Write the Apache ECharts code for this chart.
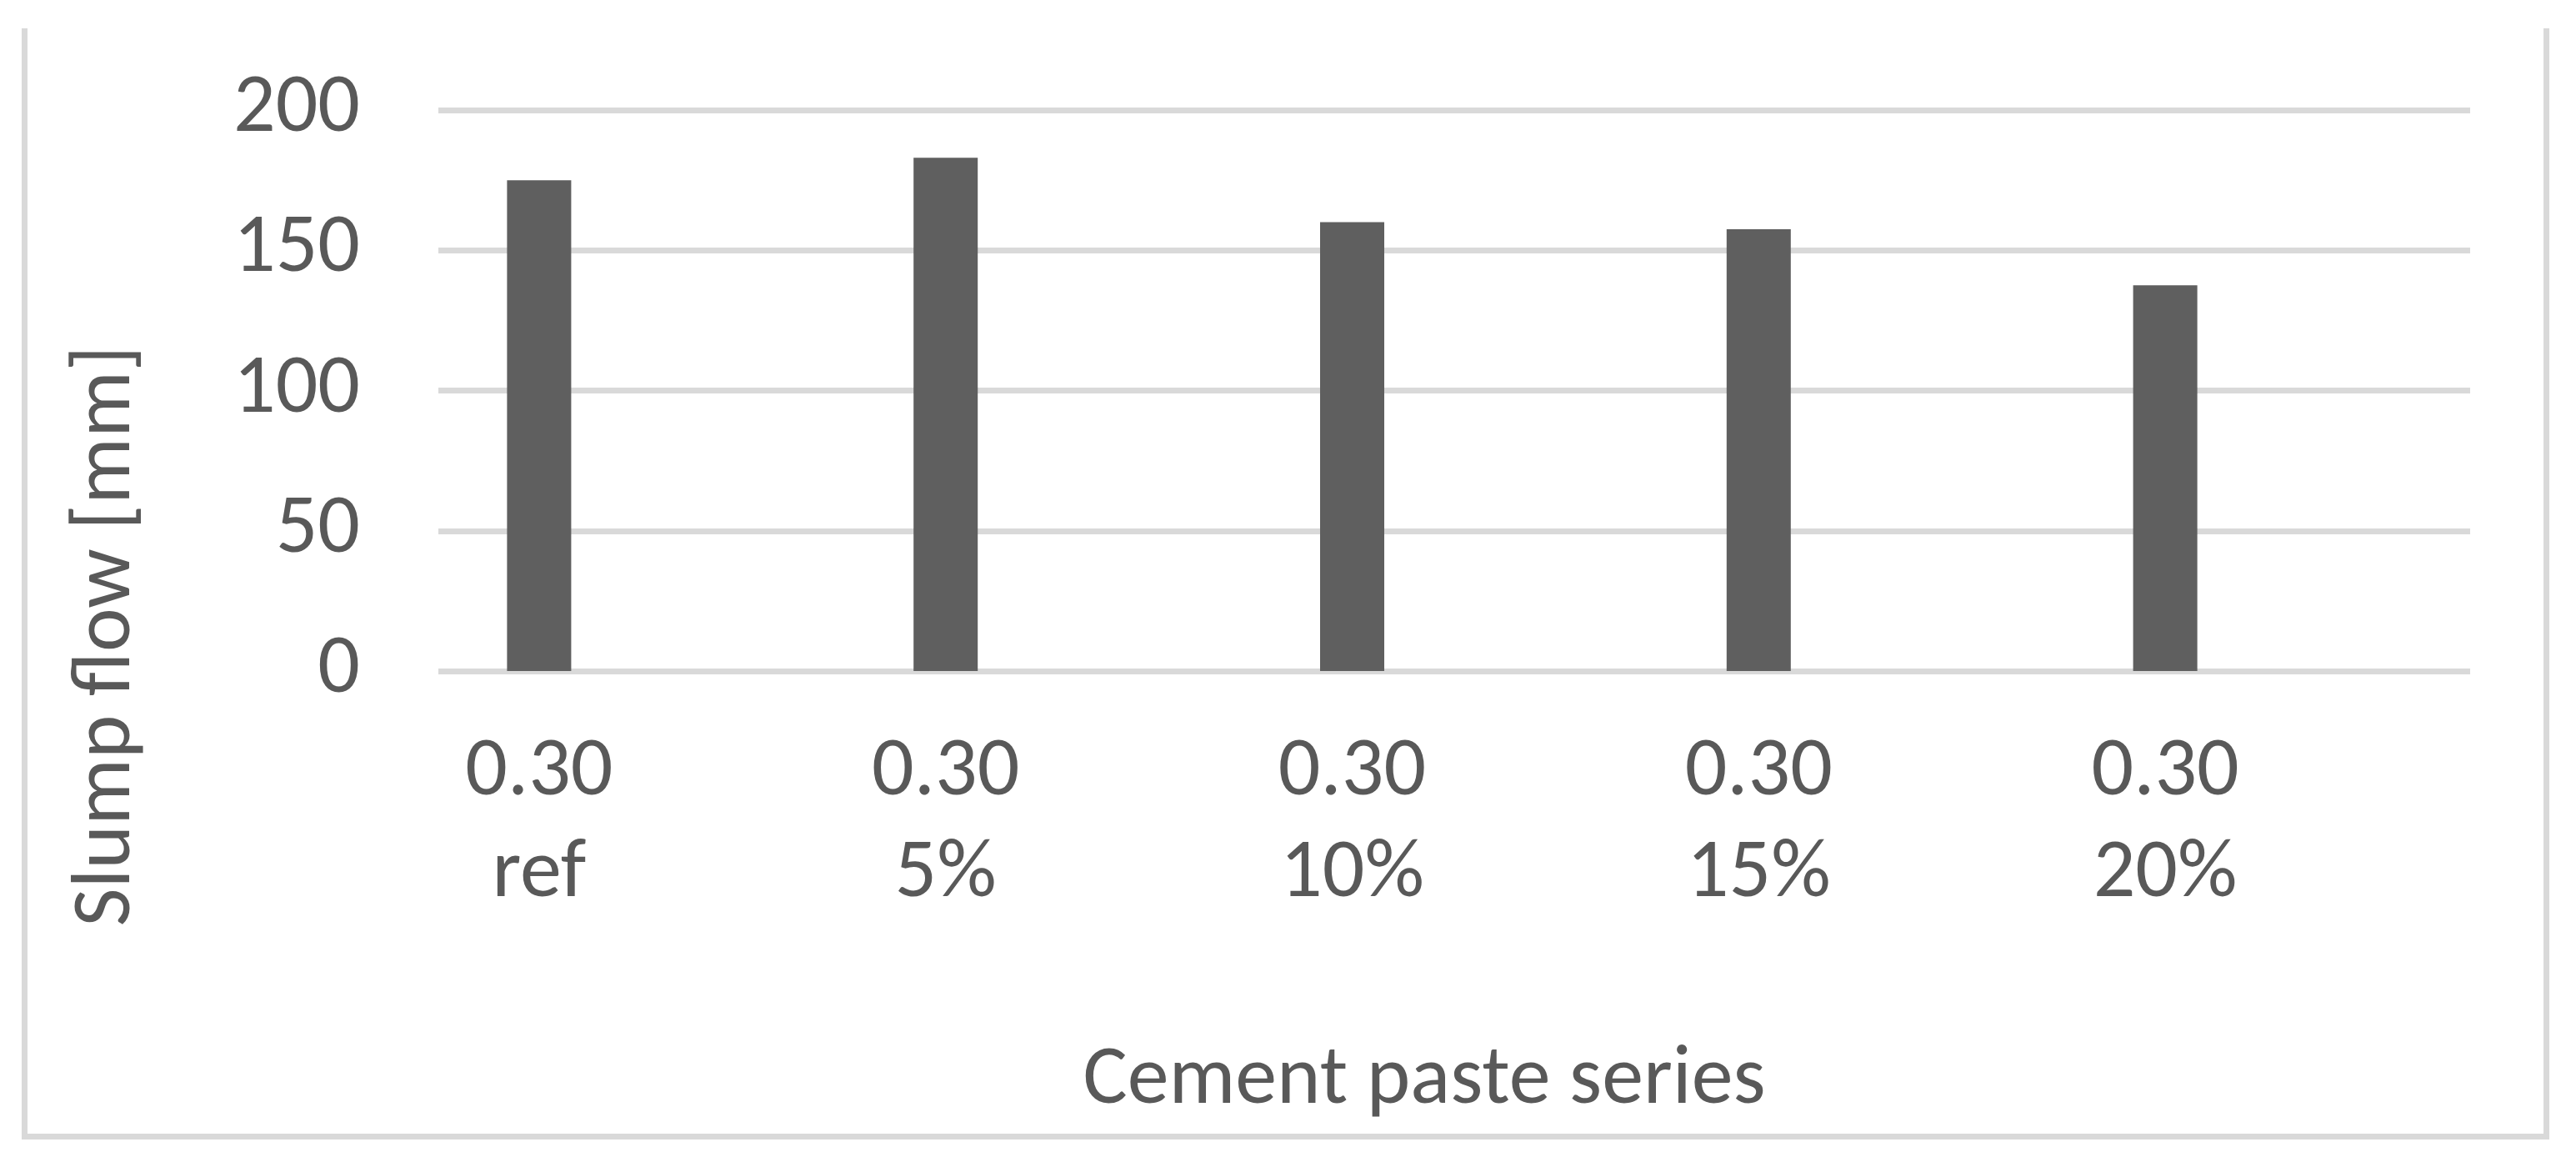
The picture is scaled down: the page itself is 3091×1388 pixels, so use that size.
<!DOCTYPE html>
<html>
<head>
<meta charset="utf-8">
<script src="https://cdn.jsdelivr.net/npm/echarts@6/dist/echarts.min.js"></script>
<style>
  html, body { margin: 0; padding: 0; background: #fff; }
  #chart { width: 3091px; height: 1388px; }
</style>
</head>
<body>
<div id="chart"></div>
<script>
// data
var ratios = ['0.30', '0.30', '0.30', '0.30', '0.30'];
var replacements = ['ref', '5%', '10%', '15%', '20%'];
var slumpFlow = [175, 183, 160, 157.5, 137.5];
var yTicks = [0, 50, 100, 150, 200];

var categories = ratios.map(function (r, i) { return r + '\n' + replacements[i]; });

var font = 'Carlito, "Open Sans", sans-serif';
var textColor = '#595959';

var chart = echarts.init(document.getElementById('chart'));
var option = {
  backgroundColor: '#ffffff',
  animation: false,
  grid: [
    // gridlines + y labels
    { left: 526, right: 127, top: 132, bottom: 583 },
    // bars + category labels
    { left: 403, right: 249, top: 132, bottom: 583 }
  ],
  xAxis: [
    { gridIndex: 0, type: 'category', data: categories, show: false },
    {
      gridIndex: 1,
      type: 'category',
      data: categories,
      axisLine: { show: false },
      axisTick: { show: false },
      axisLabel: {
        fontFamily: font,
        fontSize: 100,
        lineHeight: 122,
        color: textColor,
        margin: 62
      }
    }
  ],
  yAxis: [
    {
      gridIndex: 0,
      type: 'value',
      min: yTicks[0],
      max: yTicks[yTicks.length - 1],
      interval: 50,
      axisLine: { show: false },
      axisTick: { show: false },
      axisLabel: { fontFamily: font, fontSize: 100, color: textColor, margin: 94 },
      splitLine: { lineStyle: { color: '#d9d9d9', width: 7 } }
    },
    {
      gridIndex: 1,
      type: 'value',
      min: yTicks[0],
      max: yTicks[yTicks.length - 1],
      interval: 50,
      show: false
    }
  ],
  series: [{
    type: 'bar',
    xAxisIndex: 1,
    yAxisIndex: 1,
    data: slumpFlow,
    barWidth: 77,
    itemStyle: { color: '#5f5f5f' }
  }],
  graphic: [
    {
      type: 'polyline',
      shape: { points: [[29.5, 34], [29.5, 1363.5], [3055.5, 1363.5], [3055.5, 34]] },
      style: { stroke: '#d9d9d9', lineWidth: 7, fill: null }
    },
    {
      type: 'text',
      x: 130,
      y: 763,
      rotation: Math.PI / 2,
      style: {
        text: 'Slump flow [mm]',
        fontFamily: font,
        fontSize: 100,
        fill: textColor,
        align: 'center',
        verticalAlign: 'middle'
      }
    },
    {
      type: 'text',
      x: 1709,
      y: 1298,
      style: {
        text: 'Cement paste series',
        fontFamily: font,
        fontSize: 100,
        fill: textColor,
        align: 'center',
        verticalAlign: 'middle'
      }
    }
  ]
};
chart.setOption(option);
</script>
</body>
</html>
